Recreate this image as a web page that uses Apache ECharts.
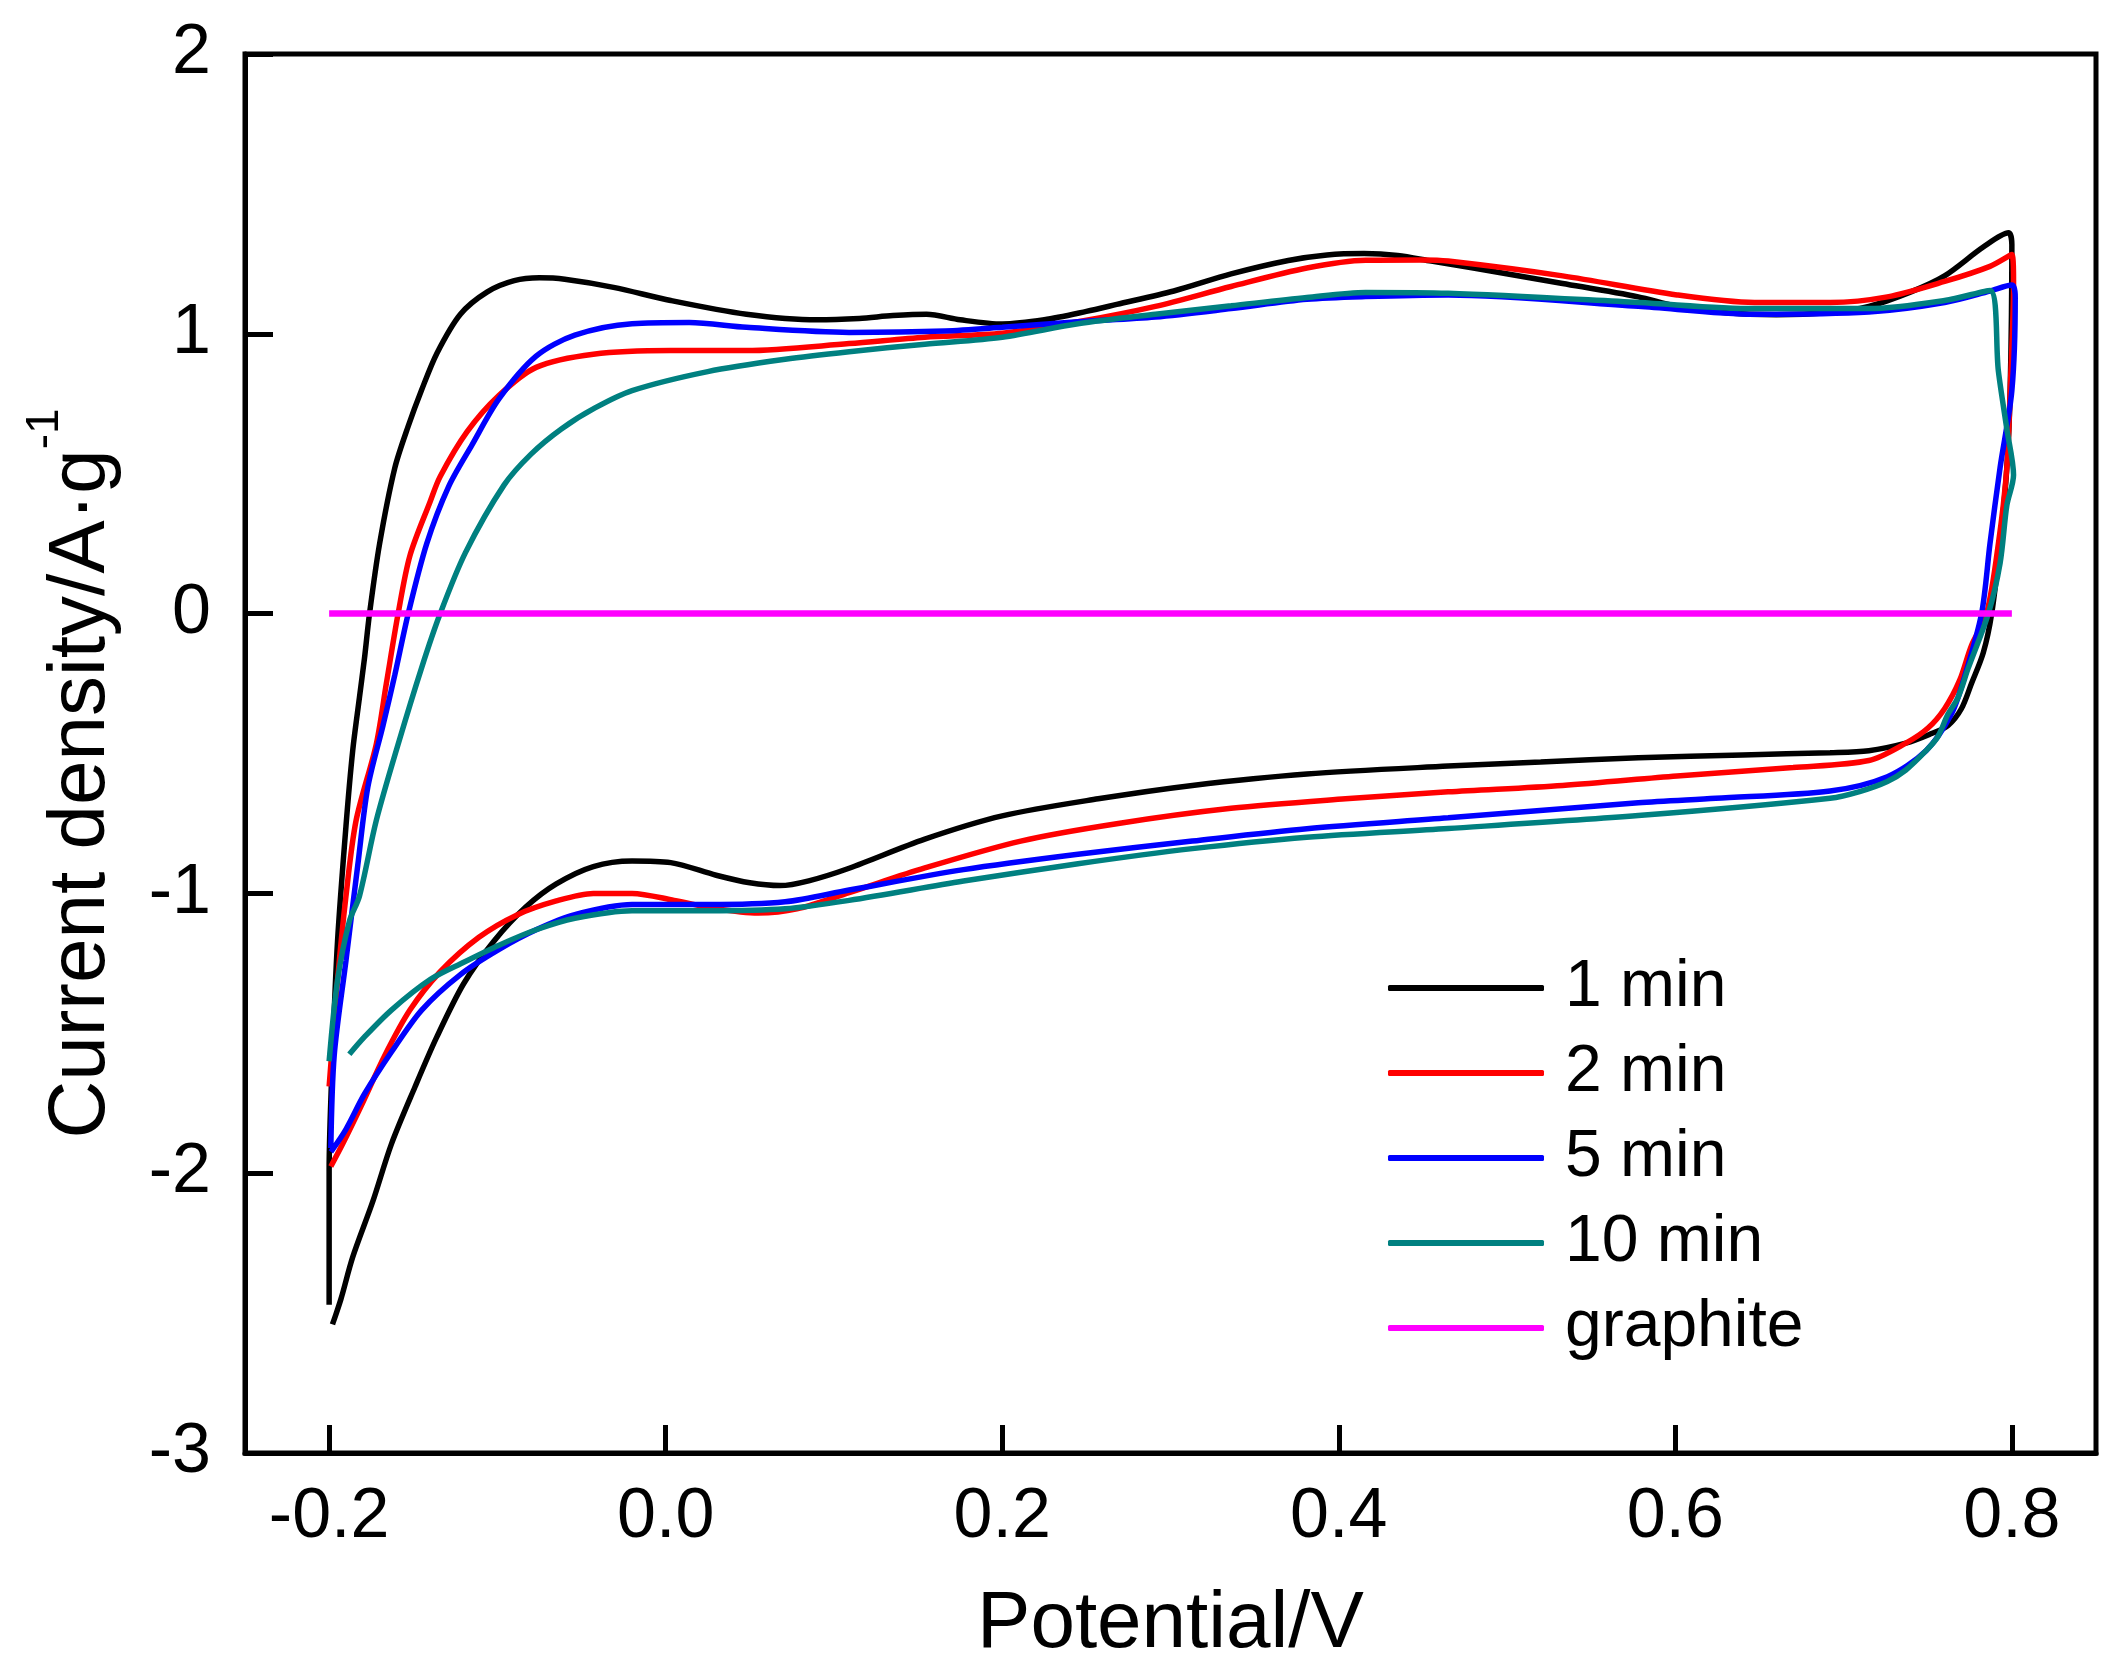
<!DOCTYPE html>
<html>
<head>
<meta charset="utf-8">
<title>CV curves</title>
<script src="https://cdn.jsdelivr.net/npm/echarts@6/dist/echarts.min.js"></script>
<style>
  html, body { margin: 0; padding: 0; background: #fff; }
  #chart { width: 2120px; height: 1673px; }
</style>
</head>
<body>
<div id="chart"></div>
<script>
// CV loops: [potential V, current density A/g],
// anodic sweep first, then the cathodic sweep back

const seriesNames = ['1 min', '2 min', '5 min', '10 min', 'graphite'];
const seriesColors = ['#000000', '#ff0000', '#0000ff', '#008080', '#ff00ff'];
const xTicks = [-0.2, 0, 0.2, 0.4, 0.6, 0.8];

const cv1min = [
  [-0.200, -2.47], [-0.200, -1.99], [-0.198, -1.58], [-0.195, -1.17], [-0.190, -0.76],
  [-0.186, -0.49], [-0.182, -0.30], [-0.179, -0.16], [-0.176, 0.00], [-0.170, 0.25],
  [-0.161, 0.52], [-0.153, 0.67], [-0.145, 0.80], [-0.136, 0.93], [-0.122, 1.07],
  [-0.106, 1.15], [-0.090, 1.19], [-0.075, 1.20], [-0.060, 1.195], [-0.031, 1.166],
  [0.003, 1.119], [0.048, 1.07], [0.090, 1.05], [0.115, 1.055], [0.135, 1.065],
  [0.155, 1.07], [0.175, 1.05], [0.200, 1.035], [0.225, 1.05], [0.250, 1.08],
  [0.268, 1.105], [0.302, 1.153], [0.336, 1.214], [0.370, 1.262], [0.393, 1.282],
  [0.415, 1.287], [0.435, 1.28], [0.455, 1.26], [0.480, 1.235], [0.533, 1.18],
  [0.578, 1.132], [0.600, 1.10], [0.630, 1.075], [0.660, 1.068], [0.690, 1.075],
  [0.715, 1.098], [0.740, 1.15], [0.760, 1.207], [0.783, 1.31], [0.798, 1.361],
  [0.800, 1.318],
  [0.799, 0.80], [0.797, 0.52], [0.793, 0.25], [0.788, 0.00], [0.783, -0.14],
  [0.776, -0.25], [0.770, -0.34], [0.762, -0.40], [0.751, -0.432], [0.737, -0.463],
  [0.715, -0.49], [0.692, -0.497], [0.640, -0.505], [0.578, -0.515], [0.520, -0.53],
  [0.465, -0.545], [0.381, -0.573], [0.313, -0.614], [0.257, -0.662], [0.200, -0.723],
  [0.154, -0.806], [0.109, -0.91], [0.085, -0.955], [0.068, -0.972], [0.050, -0.962],
  [0.030, -0.935], [0.003, -0.89], [-0.020, -0.884], [-0.043, -0.904], [-0.065, -0.966],
  [-0.083, -1.048], [-0.102, -1.17], [-0.120, -1.322], [-0.136, -1.513], [-0.149, -1.692],
  [-0.163, -1.896], [-0.174, -2.10], [-0.186, -2.30], [-0.193, -2.45], [-0.198, -2.54]
];

const cv2min = [
  [-0.200, -1.69], [-0.195, -1.31], [-0.190, -1.01], [-0.184, -0.74], [-0.172, -0.467],
  [-0.166, -0.25], [-0.159, 0.00], [-0.152, 0.207], [-0.140, 0.40], [-0.134, 0.49],
  [-0.118, 0.65], [-0.099, 0.78], [-0.077, 0.88], [-0.043, 0.927], [0.003, 0.94],
  [0.048, 0.94], [0.109, 0.965], [0.154, 0.988], [0.200, 1.002], [0.245, 1.043],
  [0.291, 1.098], [0.336, 1.169], [0.381, 1.235], [0.416, 1.263], [0.450, 1.264],
  [0.465, 1.26], [0.533, 1.207], [0.601, 1.139], [0.647, 1.112], [0.692, 1.112],
  [0.726, 1.132], [0.760, 1.187], [0.787, 1.241], [0.800, 1.283],
  [0.801, 1.18], [0.799, 0.797], [0.797, 0.52], [0.792, 0.25], [0.785, 0.00],
  [0.776, -0.114], [0.769, -0.238], [0.760, -0.34], [0.750, -0.41], [0.737, -0.463],
  [0.715, -0.525], [0.670, -0.55], [0.601, -0.58], [0.533, -0.614], [0.465, -0.637],
  [0.404, -0.662], [0.336, -0.696], [0.268, -0.751], [0.211, -0.813], [0.154, -0.909],
  [0.109, -0.997], [0.078, -1.055], [0.055, -1.07], [0.030, -1.055], [0.005, -1.025],
  [-0.020, -1.00], [-0.043, -1.00], [-0.065, -1.027], [-0.088, -1.076], [-0.111, -1.157],
  [-0.134, -1.28], [-0.152, -1.417], [-0.167, -1.58], [-0.181, -1.76], [-0.192, -1.896],
  [-0.199, -1.976]
];

const cv5min = [
  [-0.199, -1.91], [-0.197, -1.58], [-0.190, -1.24], [-0.183, -0.90], [-0.177, -0.62],
  [-0.168, -0.40], [-0.161, -0.22], [-0.153, 0.00], [-0.142, 0.25], [-0.129, 0.454],
  [-0.115, 0.604], [-0.099, 0.768], [-0.077, 0.92], [-0.054, 0.995], [-0.020, 1.036],
  [0.014, 1.04], [0.048, 1.023], [0.109, 1.005], [0.166, 1.01], [0.200, 1.023],
  [0.245, 1.043], [0.291, 1.06], [0.336, 1.09], [0.381, 1.123], [0.416, 1.133],
  [0.465, 1.139], [0.578, 1.098], [0.647, 1.07], [0.715, 1.078], [0.760, 1.112],
  [0.787, 1.153], [0.800, 1.174],
  [0.802, 1.13], [0.800, 0.797], [0.793, 0.522], [0.787, 0.25], [0.782, 0.00],
  [0.772, -0.224], [0.764, -0.36], [0.749, -0.49], [0.726, -0.583], [0.692, -0.634],
  [0.624, -0.66], [0.578, -0.676], [0.465, -0.73], [0.381, -0.769], [0.313, -0.813],
  [0.245, -0.86], [0.177, -0.915], [0.109, -0.988], [0.071, -1.03], [0.025, -1.04],
  [-0.020, -1.04], [-0.054, -1.076], [-0.077, -1.13], [-0.099, -1.20], [-0.122, -1.29],
  [-0.145, -1.417], [-0.163, -1.567], [-0.179, -1.717], [-0.190, -1.843], [-0.199, -1.924]
];

const cv10min = [
  [-0.200, -1.60], [-0.195, -1.31], [-0.188, -1.10], [-0.182, -1.01], [-0.172, -0.74],
  [-0.159, -0.467], [-0.145, -0.193], [-0.134, 0.00], [-0.119, 0.218], [-0.096, 0.46],
  [-0.080, 0.57], [-0.062, 0.66], [-0.042, 0.735], [-0.020, 0.797], [0.025, 0.865],
  [0.071, 0.909], [0.109, 0.936], [0.154, 0.963], [0.200, 0.988], [0.245, 1.036],
  [0.291, 1.07], [0.336, 1.10], [0.381, 1.13], [0.416, 1.148], [0.465, 1.145],
  [0.578, 1.112], [0.647, 1.09], [0.715, 1.09], [0.760, 1.119], [0.787, 1.155],
  [0.792, 0.866], [0.797, 0.66], [0.801, 0.495], [0.797, 0.386], [0.793, 0.18],
  [0.786, 0.00], [0.774, -0.196], [0.768, -0.30], [0.762, -0.36], [0.756, -0.44],
  [0.749, -0.49], [0.737, -0.559], [0.726, -0.600], [0.710, -0.635], [0.692, -0.66],
  [0.578, -0.722], [0.465, -0.768], [0.381, -0.799], [0.313, -0.84], [0.245, -0.894],
  [0.177, -0.956], [0.109, -1.025], [0.071, -1.055], [0.025, -1.062], [-0.020, -1.062],
  [-0.054, -1.089], [-0.077, -1.13], [-0.099, -1.185], [-0.120, -1.246], [-0.140, -1.308],
  [-0.163, -1.417], [-0.179, -1.513], [-0.188, -1.575]
];

const cvGraphite = [[-0.2, 0], [0.8, 0]];

const seriesData = [cv1min, cv2min, cv5min, cv10min, cvGraphite];

const FONT = "'Liberation Sans', Arial, sans-serif";

const chart = echarts.init(document.getElementById('chart'));

chart.setOption({
  animation: false,
  backgroundColor: '#ffffff',
  grid: {
    left: 245,
    right: 24,
    top: 54,
    bottom: 220,
    show: true,
    borderColor: '#000',
    borderWidth: 5,
    backgroundColor: 'transparent'
  },
  legend: {
    orient: 'vertical',
    left: 1388,
    top: 955,
    padding: 0,
    itemWidth: 156,
    itemHeight: 6,
    itemGap: 19,
    icon: 'roundRect',
    data: seriesNames,
    textStyle: {
      fontFamily: FONT,
      fontSize: 66,
      lineHeight: 66,
      color: '#000',
      padding: [0, 0, 0, 16]
    }
  },
  xAxis: {
    type: 'value',
    min: -0.25,
    max: 0.85,
    name: 'Potential/V',
    nameLocation: 'middle',
    nameGap: 132,
    nameTextStyle: { fontFamily: FONT, fontSize: 80, color: '#000' },
    splitLine: { show: false },
    axisLine: { onZero: false, lineStyle: { color: '#000', width: 5 } },
    axisTick: {
      inside: true,
      length: 28,
      customValues: xTicks,
      lineStyle: { color: '#000', width: 5 }
    },
    axisLabel: {
      margin: 30,
      customValues: xTicks,
      formatter: v => v.toFixed(1),
      fontFamily: FONT,
      fontSize: 70,
      color: '#000'
    }
  },
  yAxis: {
    type: 'value',
    min: -3,
    max: 2,
    interval: 1,
    name: '{a|Current density/A·g}{b|-1}',
    nameLocation: 'middle',
    nameGap: 123,
    nameTextStyle: {
      fontFamily: FONT,
      color: '#000',
      padding: [0, 40, 0, 0],
      rich: {
        a: { fontFamily: FONT, fontSize: 80, lineHeight: 100, verticalAlign: 'bottom', color: '#000' },
        b: { fontFamily: FONT, fontSize: 46, lineHeight: 46, verticalAlign: 'top', color: '#000' }
      }
    },
    splitLine: { show: false },
    axisLine: { onZero: false, lineStyle: { color: '#000', width: 5 } },
    axisTick: { inside: true, length: 28, lineStyle: { color: '#000', width: 5 } },
    axisLabel: {
      margin: 34,
      fontFamily: FONT,
      fontSize: 70,
      color: '#000'
    }
  },
  series: seriesNames.map((name, i) => ({
    name: name,
    type: 'line',
    data: seriesData[i],
    symbol: 'none',
    smooth: 0.3,
    color: seriesColors[i],
    lineStyle: { color: seriesColors[i], width: i === 4 ? 6.5 : 5.5 },
    z: 2 + i
  }))
});

window.addEventListener('resize', () => chart.resize());
</script>
</body>
</html>
